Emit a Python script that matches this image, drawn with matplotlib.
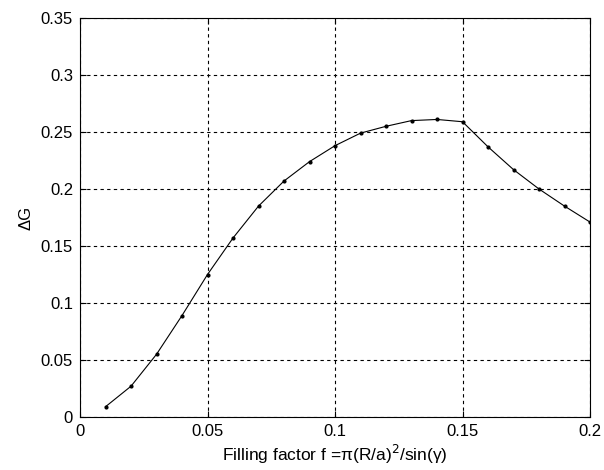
import matplotlib.pyplot as plt

plt.rcParams['font.family'] = ['Liberation Sans', 'DejaVu Sans']

# filling factor and Delta G values
fill_factor = [0.01, 0.02, 0.03, 0.04, 0.05, 0.06, 0.07, 0.08, 0.09, 0.10,
               0.11, 0.12, 0.13, 0.14, 0.15, 0.16, 0.17, 0.18, 0.19, 0.20]
delta_g = [0.009, 0.027, 0.055, 0.089, 0.125, 0.157, 0.185, 0.207, 0.224, 0.238,
           0.249, 0.255, 0.260, 0.261, 0.259, 0.237, 0.217, 0.200, 0.185, 0.171]

x_ticks = [0, 0.05, 0.1, 0.15, 0.2]
x_tick_labels = ['0', '0.05', '0.1', '0.15', '0.2']
y_ticks = [0, 0.05, 0.1, 0.15, 0.2, 0.25, 0.3, 0.35]
y_tick_labels = ['0', '0.05', '0.1', '0.15', '0.2', '0.25', '0.3', '0.35']

fig = plt.figure(figsize=(6.04, 4.70), dpi=100)
ax = fig.add_axes([80 / 604, 1 - 417 / 470, 510 / 604, 399 / 470])

ax.plot(fill_factor, delta_g, color='black', linewidth=0.8,
        marker='o', markersize=2.0)

ax.set_xlim(0, 0.2)
ax.set_ylim(0, 0.35)
ax.set_xticks(x_ticks)
ax.set_xticklabels(x_tick_labels)
ax.set_yticks(y_ticks)
ax.set_yticklabels(y_tick_labels)
ax.tick_params(direction='in', top=True, right=True, length=4, labelsize=12, pad=5)
ax.grid(True, color='black', linestyle=(0, (3, 3)), linewidth=0.8)
for s in ax.spines.values():
    s.set_linewidth(0.8)

ax.set_xlabel('Filling factor f =\u03c0(R/a)$^2$/sin(\u03b3)', fontsize=12.5, labelpad=3)
ax.set_ylabel('\u0394G', fontsize=12, labelpad=5)

fig.savefig('out.png', dpi=100)
